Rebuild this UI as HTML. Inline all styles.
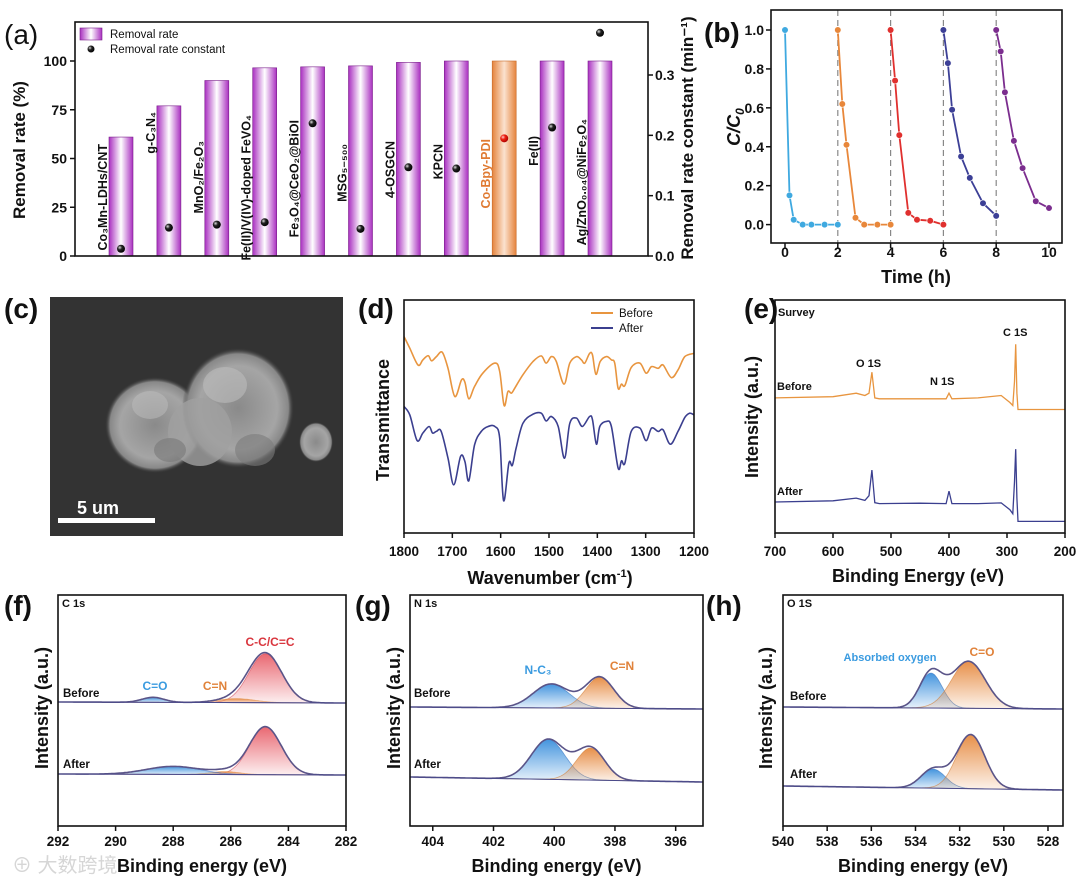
<!DOCTYPE html>
<html><head><meta charset="utf-8"><style>
body{margin:0;background:#fff;}
svg text{font-family:"Liberation Sans","Noto Sans CJK SC",sans-serif;}
</style></head><body>
<svg id="fig" width="1080" height="888" viewBox="0 0 1080 888" xmlns="http://www.w3.org/2000/svg">
<defs>
<linearGradient id="barG" x1="0" x2="1"><stop offset="0" stop-color="#a92fc0"/><stop offset="0.5" stop-color="#ffffff"/><stop offset="1" stop-color="#a92fc0"/></linearGradient>
<linearGradient id="barO" x1="0" x2="1"><stop offset="0" stop-color="#e5843d"/><stop offset="0.5" stop-color="#fbe2cf"/><stop offset="1" stop-color="#e5843d"/></linearGradient>
<radialGradient id="dotK" cx="0.35" cy="0.35" r="0.7"><stop offset="0" stop-color="#ddd"/><stop offset="0.4" stop-color="#222"/><stop offset="1" stop-color="#000"/></radialGradient>
<radialGradient id="dotR" cx="0.35" cy="0.35" r="0.7"><stop offset="0" stop-color="#fcc"/><stop offset="0.4" stop-color="#e21"/><stop offset="1" stop-color="#a00"/></radialGradient>
<linearGradient id="gRed" x1="0" x2="0" y1="0" y2="1"><stop offset="0" stop-color="#e8606a" stop-opacity="0.95"/><stop offset="1" stop-color="#e8606a" stop-opacity="0.1"/></linearGradient>
<linearGradient id="gOra" x1="0" x2="0" y1="0" y2="1"><stop offset="0" stop-color="#e68a40" stop-opacity="0.95"/><stop offset="1" stop-color="#e68a40" stop-opacity="0.1"/></linearGradient>
<linearGradient id="gBlu" x1="0" x2="0" y1="0" y2="1"><stop offset="0" stop-color="#3a8fdc" stop-opacity="0.95"/><stop offset="1" stop-color="#3a8fdc" stop-opacity="0.1"/></linearGradient>
<radialGradient id="blob" cx="0.5" cy="0.5" r="0.5"><stop offset="0" stop-color="#8a8a8a"/><stop offset="0.7" stop-color="#a5a5a5"/><stop offset="0.9" stop-color="#888"/><stop offset="1" stop-color="#3a3a3a" stop-opacity="0"/></radialGradient>
</defs>
<g id="root"></g>
</svg>
<script>
// ---------- Panel (a) data ----------
const aCats=["Co\u2083Mn-LDHs/CNT","g-C\u2083N\u2084","MnO\u2082/Fe\u2082O\u2083","Fe(II)/V(IV)-doped FeVO\u2084","Fe\u2083O\u2084@CeO\u2082@BiOI","MSG\u2085\u208B\u2085\u2080\u2080","4-OSGCN","KPCN","Co-Bpy-PDI","Fe(II)","Ag/ZnO\u2080.\u2080\u2084@NiFe\u2082O\u2084"];
const aRate=[61,77,90,96.5,97,97.5,99.3,100,100,100,100];
const aConst=[0.012,0.047,0.052,0.056,0.22,0.045,0.147,0.145,0.195,0.213,0.37];
const aLeftTicks=[0,25,50,75,100];
const aRightTicks=["0.0","0.1","0.2","0.3"];
const aLabelTop=[144,112,141,115,120,144,141,144,139,136,119];
// ---------- Panel (b) data ----------
const bT1=[0,0.17,0.33,0.67,1,1.5,2], bC1=[1,0.15,0.025,0,0,0,0];
const bT2=[2,2.17,2.33,2.67,3,3.5,4], bC2=[1,0.62,0.41,0.035,0,0,0];
const bT3=[4,4.17,4.33,4.67,5,5.5,6], bC3=[1,0.74,0.46,0.06,0.025,0.02,0];
const bT4=[6,6.17,6.33,6.67,7,7.5,8], bC4=[1,0.83,0.59,0.35,0.24,0.11,0.045];
const bT5=[8,8.17,8.33,8.67,9,9.5,10], bC5=[1,0.89,0.68,0.43,0.29,0.12,0.085];
const bXTicks=[0,2,4,6,8,10];
const bYTicks=["0.0","0.2","0.4","0.6","0.8","1.0"];
// ---------- Panel (d) data ----------
const dWn=[1800,1788,1771,1761,1750,1743,1733,1721,1709,1695,1681,1674,1666,1654,1637,1612,1602,1593,1585,1578,1571,1554,1533,1516,1506,1495,1485,1469,1457,1443,1433,1426,1416,1410,1403,1394,1381,1371,1364,1357,1350,1343,1330,1312,1299,1288,1274,1264,1247,1233,1219,1200];
const dBefore=[84.3,79.3,72.1,74.3,76.1,73.9,75.7,77.6,70.7,58.6,65.7,64.7,57.6,62.9,68.6,72.9,69.3,54.7,60.7,60,62.1,67.9,73.6,76,72.9,75.7,73.6,63.9,72.9,75.7,74.3,72.9,77.1,76.4,68.1,73.6,75.7,74.3,72.9,62.1,63.9,63.3,71,72.9,68.6,71.4,70.7,72.1,66.7,70,75.7,77.1];
const dWnA=[1800,1788,1773,1761,1748,1741,1733,1723,1709,1697,1683,1674,1666,1654,1640,1626,1612,1602,1594,1583,1576,1568,1554,1533,1516,1506,1495,1481,1468,1457,1443,1431,1416,1410,1402,1395,1381,1371,1357,1350,1343,1330,1312,1299,1288,1274,1264,1249,1233,1219,1209,1200];
const dAfter=[54.3,50.7,39.7,42.9,45.7,42.9,43.6,43.6,32.1,20.7,32.9,30.7,22.4,37.9,43.6,45.7,45.7,40.7,13.9,30,29,36.4,47.1,51,51.4,48.1,50,45.7,32.1,47.1,49.3,45.7,50,48.6,38.1,45.7,47.9,45.7,27.9,31,30,43.6,45,39.6,45,43.6,44.3,38.1,43.6,49.6,51.4,50.7];
const dTicks=[1800,1700,1600,1500,1400,1300,1200];
// ---------- Panel (e) data ----------
const eBE=[700,600,560,545,538,533,528,520,450,405,400,395,350,310,295,290,287,285,283,281,200];
const eBefore=[58,58.5,60,59,60,69,58,57.6,57.6,57.6,60,57.6,58,59,56,54.7,65,81,60,53,53];
const eAfter=[13.3,13.8,15,14,16,27,13,12.6,12.8,12.6,18,12.6,12.6,12.9,10,8.3,22,36,15,5,5];
const eTicks=[700,600,500,400,300,200];
// ---------- XPS fit params (center, height px, fwhm) ----------
const fBeforeC=[284.8,285.8,288.7], fBeforeH=[49,4,5], fBeforeW=[1.35,1.5,0.9];
const fAfterC=[284.8,286.2,288.0], fAfterH=[48,3,8], fAfterW=[1.3,1.2,2.2];
const gBeforeC=[400.1,398.5], gBeforeH=[24,31], gBeforeW=[1.4,1.1];
const gAfterC=[400.2,398.8], gAfterH=[40,32], gAfterW=[1.3,1.1];
const hBeforeC=[533.3,531.6], hBeforeH=[35,47], hBeforeW=[1.2,1.8];
const hAfterC=[533.2,531.5], hAfterH=[19,54], hAfterW=[1.3,1.5];
const fTicks=[292,290,288,286,284,282], gTicks=[404,402,400,398,396], hTicks=[540,538,536,534,532,530,528];

const NS="http://www.w3.org/2000/svg";
const root=document.getElementById('root');
function el(tag,attrs,parent,txt){const e=document.createElementNS(NS,tag);for(const k in attrs)e.setAttribute(k,attrs[k]);if(txt!==undefined)e.textContent=txt;(parent||root).appendChild(e);return e;}
function lin(d0,d1,r0,r1){return v=>r0+(v-d0)/(d1-d0)*(r1-r0);}
function txt(x,y,s,size,opts){const o=Object.assign({x:x,y:y,'font-size':size,'font-weight':'bold',fill:'#111'},opts||{});return el('text',o,root,s);}
function frame(x0,y0,x1,y1){return el('rect',{x:x0,y:y0,width:x1-x0,height:y1-y0,fill:'none',stroke:'#111','stroke-width':1.6});}
function path(xs,ys,sx,sy){return xs.map((v,i)=>(i?'L':'M')+sx(v).toFixed(1)+','+sy(ys[i]).toFixed(1)).join('');}
function smooth(xs,ys,sx,sy){const P=xs.map((v,i)=>[sx(v),sy(ys[i])]);let d='M'+P[0][0].toFixed(1)+','+P[0][1].toFixed(1);
 for(let i=0;i<P.length-1;i++){const p0=P[i-1]||P[i],p1=P[i],p2=P[i+1],p3=P[i+2]||P[i+1];
  const c1=[p1[0]+(p2[0]-p0[0])/6,p1[1]+(p2[1]-p0[1])/6],c2=[p2[0]-(p3[0]-p1[0])/6,p2[1]-(p3[1]-p1[1])/6];
  d+='C'+c1[0].toFixed(1)+','+c1[1].toFixed(1)+' '+c2[0].toFixed(1)+','+c2[1].toFixed(1)+' '+p2[0].toFixed(1)+','+p2[1].toFixed(1);}
 return d;}

// ===== (a) =====
(function(){
 const X0=75,X1=648,Y0=22,Y1=256;
 const yl=lin(0,100,256,61), yr=lin(0,0.3,256,75);
 const bx=i=>121+i*47.9;
 let t=txt(4,44,'(a)',28,{'font-weight':'normal'});
 aCats.forEach((c,i)=>{
  const r=el('rect',{x:bx(i)-12,y:yl(aRate[i]),width:24,height:yl(0)-yl(aRate[i]),fill:i==8?'url(#barO)':'url(#barG)',stroke:i==8?'#c56a2a':'#7a1f8a','stroke-width':0.6});
  
  const d=el('circle',{cx:bx(i),cy:yr(aConst[i]),r:4,fill:i==8?'url(#dotR)':'url(#dotK)'});
  
  const l=el('text',{x:0,y:0,transform:'translate('+(bx(i)-14)+','+aLabelTop[i]+') rotate(-90)','text-anchor':'end','font-size':12.5,'font-weight':'bold',fill:i==8?'#e07b33':'#111'},root,c);
  
 });
 const f=frame(X0,Y0,X1,Y1);
 aLeftTicks.forEach(v=>{el('line',{x1:X0-5,x2:X0,y1:yl(v),y2:yl(v),stroke:'#111','stroke-width':1.5});
  const k=txt(X0-8,yl(v)+5,String(v),14,{'text-anchor':'end'});});
 aRightTicks.forEach(v=>{const y=yr(parseFloat(v));el('line',{x1:X1,x2:X1+5,y1:y,y2:y,stroke:'#111','stroke-width':1.5});
  const k=txt(X1+7,y+5,v,14);});
 let yt=txt(0,0,'Removal rate (%)',17,{transform:'translate(25,150) rotate(-90)','text-anchor':'middle'});
 let yt2=txt(0,0,'Removal rate constant (min\u207B\u00B9)',17,{transform:'translate(693,138) rotate(-90)','text-anchor':'middle'});
 let lr=el('rect',{x:80,y:28,width:22,height:12,fill:'url(#barG)',stroke:'#7a1f8a','stroke-width':0.6});
 let lt=txt(110,38,'Removal rate',11.5,{'font-weight':'normal'});
 let ld=el('circle',{cx:91,cy:49,r:3.5,fill:'url(#dotK)'});
 let lt2=txt(110,53,'Removal rate constant',11.5,{'font-weight':'normal'});
})();

// ===== (b) =====
(function(){
 const X0=771,X1=1062,Y0=10,Y1=243;
 const sx=lin(0,10,785,1049), sy=lin(0,1,224.6,30);
 let t=txt(704,42,'(b)',28);
 [2,4,6,8].forEach(v=>{el('line',{x1:sx(v),x2:sx(v),y1:Y0,y2:Y1,stroke:'#888','stroke-width':1.2,'stroke-dasharray':'6,4'});});
 const ser=[[bT1,bC1,'#3fa9e0'],[bT2,bC2,'#e8873a'],[bT3,bC3,'#e0302e'],[bT4,bC4,'#3c3f96'],[bT5,bC5,'#7b2d8e']];
 ser.forEach((s,k)=>{const p=el('path',{d:path(s[0],s[1],sx,sy),fill:'none',stroke:s[2],'stroke-width':1.8});
  
  s[0].forEach((v,i)=>{const c=el('circle',{cx:sx(v),cy:sy(s[1][i]),r:3.3,fill:s[2],stroke:'#fff','stroke-width':0.6});
   });});
 const f=frame(X0,Y0,X1,Y1);
 bXTicks.forEach(v=>{el('line',{x1:sx(v),x2:sx(v),y1:Y1,y2:Y1+5,stroke:'#111','stroke-width':1.5});
  const k=txt(sx(v),257,String(v),14,{'text-anchor':'middle'});});
 bYTicks.forEach(v=>{const y=sy(parseFloat(v));el('line',{x1:X0-5,x2:X0,y1:y,y2:y,stroke:'#111','stroke-width':1.5});
  const k=txt(X0-7,y+5,v,14,{'text-anchor':'end'});});
 let xt=txt(916,283,'Time (h)',18,{'text-anchor':'middle'});
 let yt=el('text',{transform:'translate(740,127) rotate(-90)','text-anchor':'middle','font-size':18,'font-weight':'bold','font-style':'italic',fill:'#111'},root);
 yt.innerHTML='C/C<tspan font-size="12" dy="4">0</tspan>';
})();

// ===== (c) SEM =====
(function(){
 let t=txt(4,318,'(c)',28);
 const g=el('g',{});
 el('rect',{x:50,y:297,width:293,height:239,fill:'#333'},g);
 el('ellipse',{cx:155,cy:425,rx:50,ry:48,fill:'url(#blob)'},g);
 el('ellipse',{cx:238,cy:408,rx:56,ry:60,fill:'url(#blob)'},g);
 el('ellipse',{cx:200,cy:432,rx:32,ry:34,fill:'#a0a0a0',opacity:0.8},g);
 el('ellipse',{cx:225,cy:385,rx:22,ry:18,fill:'#bdbdbd',opacity:0.6},g);
 el('ellipse',{cx:150,cy:405,rx:18,ry:14,fill:'#bdbdbd',opacity:0.5},g);
 el('ellipse',{cx:255,cy:450,rx:20,ry:16,fill:'#7c7c7c',opacity:0.6},g);
 el('ellipse',{cx:170,cy:450,rx:16,ry:12,fill:'#787878',opacity:0.6},g);
 el('ellipse',{cx:316,cy:442,rx:17,ry:20,fill:'url(#blob)'},g);
 el('rect',{x:58,y:518,width:97,height:5,fill:'#fff'},g);
 let s=txt(98,514,'5 um',18,{'text-anchor':'middle',fill:'#fff'});
})();

// ===== (d) FTIR =====
(function(){
 const X0=404,X1=694,Y0=300,Y1=533;
 const sx=lin(1800,1200,X0,X1), sy=lin(0,100,533,300);
 let t=txt(358,318,'(d)',28);
 let p1=el('path',{d:smooth(dWn,dBefore,sx,sy),fill:'none',stroke:'#e8953f','stroke-width':1.6,'stroke-linejoin':'round'});
 let p2=el('path',{d:smooth(dWnA,dAfter,sx,sy),fill:'none',stroke:'#3b3f8f','stroke-width':1.6,'stroke-linejoin':'round'});
 const f=frame(X0,Y0,X1,Y1);
 dTicks.forEach(v=>{el('line',{x1:sx(v),x2:sx(v),y1:Y1,y2:Y1+5,stroke:'#111','stroke-width':1.5});
  const k=txt(sx(v),556,String(v),13.5,{'text-anchor':'middle'});});
 let xt=el('text',{x:550,y:584,'text-anchor':'middle','font-size':18,'font-weight':'bold',fill:'#111'},root);xt.innerHTML='Wavenumber (cm<tspan font-size="11" dy="-7">-1</tspan><tspan dy="7">)</tspan>';
 
 let yt=txt(0,0,'Transmittance',18,{transform:'translate(389,420) rotate(-90)','text-anchor':'middle'});
 el('line',{x1:591,x2:613,y1:313,y2:313,stroke:'#e8953f','stroke-width':2});
 let l1=txt(619,317,'Before',11.5,{'font-weight':'normal'});
 el('line',{x1:591,x2:613,y1:328,y2:328,stroke:'#3b3f8f','stroke-width':2});
 let l2=txt(619,332,'After',11.5,{'font-weight':'normal'});
})();

// ===== (e) XPS survey =====
(function(){
 const X0=775,X1=1065,Y0=300,Y1=533;
 const sx=lin(700,200,X0,X1), sy=lin(0,100,533,300);
 let t=txt(744,318,'(e)',28);
 let p1=el('path',{d:path(eBE,eBefore,sx,sy),fill:'none',stroke:'#e8953f','stroke-width':1.3});
 let p2=el('path',{d:path(eBE,eAfter,sx,sy),fill:'none',stroke:'#3b3f8f','stroke-width':1.3});
 const f=frame(X0,Y0,X1,Y1);
 eTicks.forEach(v=>{el('line',{x1:sx(v),x2:sx(v),y1:Y1,y2:Y1+5,stroke:'#111','stroke-width':1.5});
  const k=txt(sx(v),556,String(v),13.5,{'text-anchor':'middle'});});
 let xt=txt(918,582,'Binding Energy (eV)',18,{'text-anchor':'middle'});
 let yt=txt(0,0,'Intensity (a.u.)',18,{transform:'translate(758,417) rotate(-90)','text-anchor':'middle'});
 [['Survey',778,316],['C 1S',1003,336],['O 1S',856,367],['N 1S',930,385]].forEach(a=>{const k=txt(a[1],a[2],a[0],11);});
 [['Before',777,390],['After',777,495]].forEach(a=>{const k=el('text',{x:a[1],y:a[2],'font-size':11,'font-weight':'bold','font-family':'Liberation Serif, serif',fill:'#111'},root,a[0]);});
})();

// ===== XPS fit panels =====
function gauss(x,c,h,w){return h*Math.exp(-4*Math.LN2*(x-c)*(x-c)/(w*w));}
function xps(cfg){
 const sx=lin(cfg.d0,cfg.d1,cfg.X0,cfg.X1);
 let t=txt(cfg.lx,cfg.ly,cfg.label,28);
 const N=220, xs=[];for(let i=0;i<=N;i++)xs.push(cfg.d0+(cfg.d1-cfg.d0)*i/N);
 [['before',cfg.bC,cfg.bH,cfg.bW,cfg.bBase],['after',cfg.aC,cfg.aH,cfg.aW,cfg.aBase]].forEach(s=>{
  const base=x=>s[4][0]+(sx(x)-cfg.X0)/(cfg.X1-cfg.X0)*(s[4][1]-s[4][0]);
  s[1].forEach((c,k)=>{
   let d='M'+sx(xs[0]).toFixed(1)+','+base(xs[0]).toFixed(1);
   xs.forEach(x=>{d+='L'+sx(x).toFixed(1)+','+(base(x)-gauss(x,c,s[2][k],s[3][k])).toFixed(1);});
   d+='L'+sx(xs[N]).toFixed(1)+','+base(xs[N]).toFixed(1)+'Z';
   const p=el('path',{d:d,fill:'url(#'+cfg.fills[k]+')',stroke:cfg.strokes[k],'stroke-width':0.8,'stroke-opacity':0.6});
   
  });
  let d2='';xs.forEach((x,i)=>{let y=base(x);s[1].forEach((c,k)=>{y-=gauss(x,c,s[2][k],s[3][k]);});d2+=(i?'L':'M')+sx(x).toFixed(1)+','+y.toFixed(1);});
  const e=el('path',{d:d2,fill:'none',stroke:'#5a5488','stroke-width':1.6});
  
  const bl=el('line',{x1:cfg.X0,x2:cfg.X1,y1:s[4][0],y2:s[4][1],stroke:'#4a4a8a','stroke-width':1});
  
 });
 const f=frame(cfg.X0,595,cfg.X1,826);
 cfg.ticks.forEach(v=>{el('line',{x1:sx(v),x2:sx(v),y1:826,y2:831,stroke:'#111','stroke-width':1.5});
  const k=txt(sx(v),846,String(v),13.5,{'text-anchor':'middle'});});
 let xt=txt((cfg.X0+cfg.X1)/2,872,'Binding energy (eV)',18,{'text-anchor':'middle'});
 let yt=txt(0,0,'Intensity (a.u.)',18,{transform:'translate('+cfg.yx+',708) rotate(-90)','text-anchor':'middle'});
 cfg.notes.forEach(n=>{const k=txt(n[1],n[2],n[0],n[4]||11.5,{fill:n[3]||'#111','text-anchor':n[5]||'start'});});
}
xps({id:'f',label:'(f)',lx:4,ly:615,X0:58,X1:346,d0:292,d1:282,bBase:[702,703],aBase:[774,775],
 bC:fBeforeC,bH:fBeforeH,bW:fBeforeW,aC:fAfterC,aH:fAfterH,aW:fAfterW,fills:['gRed','gOra','gBlu'],strokes:['#d04050','#e08a40','#3060c0'],
 ticks:fTicks,yx:48,notes:[['C 1s',62,607,'#111',11],['C-C/C=C',270,646,'#d9363e',12,'middle'],['C=O',155,690,'#3a9be0',12,'middle'],['C=N',215,690,'#e0823a',12,'middle'],['Before',63,697],['After',63,768]]});
xps({id:'g',label:'(g)',lx:355,ly:615,X0:410,X1:703,d0:404.75,d1:395.1,bBase:[707,709],aBase:[777,782],
 bC:gBeforeC,bH:gBeforeH,bW:gBeforeW,aC:gAfterC,aH:gAfterH,aW:gAfterW,fills:['gBlu','gOra'],strokes:['#3070c0','#d07a30'],
 ticks:gTicks,yx:400,notes:[['N 1s',414,607,'#111',11],['N-C\u2083',538,674,'#3a9be0',12,'middle'],['C=N',622,670,'#e0823a',12,'middle'],['Before',414,697],['After',414,768]]});
xps({id:'h',label:'(h)',lx:706,ly:615,X0:783,X1:1063,d0:540,d1:527.32,bBase:[707,709],aBase:[786,790],
 bC:hBeforeC,bH:hBeforeH,bW:hBeforeW,aC:hAfterC,aH:hAfterH,aW:hAfterW,fills:['gBlu','gOra'],strokes:['#3070c0','#d07a30'],
 ticks:hTicks,yx:772,notes:[['O 1S',787,607,'#111',11],['Absorbed oxygen',890,661,'#3a9be0',11,'middle'],['C=O',982,656,'#e0823a',12,'middle'],['Before',790,700],['After',790,778]]});

let wm=txt(12,872,'\u2295 大数跨境',20,{fill:'#ccc','font-weight':'normal','font-family':'"Liberation Sans","Noto Sans CJK SC",sans-serif',opacity:0.8});


</script>
</body></html>
